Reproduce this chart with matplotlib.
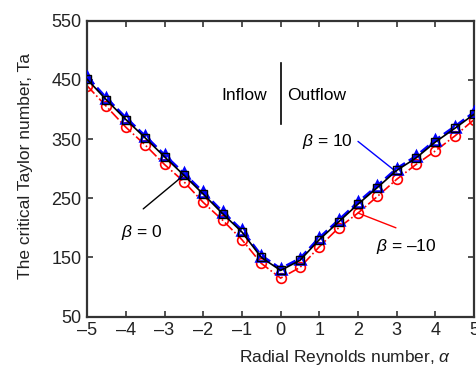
import matplotlib
matplotlib.use("Agg")
import matplotlib.pyplot as plt

plt.rcParams["font.family"] = ["Liberation Sans", "DejaVu Sans"]
plt.rcParams["mathtext.fontset"] = "custom"
plt.rcParams["mathtext.it"] = "Liberation Sans:italic"
plt.rcParams["mathtext.rm"] = "Liberation Sans"

alpha = [-5, -4.5, -4, -3.5, -3, -2.5, -2, -1.5, -1, -0.5,
         0, 0.5, 1, 1.5, 2, 2.5, 3, 3.5, 4, 4.5, 5]
ta_b0 = [451, 416, 383, 352, 320, 289, 257, 224, 193, 150,
         128, 145, 180, 210, 240, 268, 297, 318, 345, 368, 392]
ta_b10 = [455, 419, 386, 355, 323, 292, 260, 227, 196, 153,
          131, 148, 183, 213, 243, 271, 300, 321, 348, 371, 395]
ta_bm10 = [440, 405, 370, 340, 307, 278, 243, 213, 180, 140,
           115, 133, 168, 200, 225, 253, 282, 307, 330, 355, 383]
xticks = list(range(-5, 6))
yticks = list(range(50, 551, 100))

fig = plt.figure(figsize=(4.76, 3.69), dpi=100)
ax = fig.add_axes([0.183, 0.142, 0.813, 0.802])

ax.plot(alpha, ta_bm10, color="red", ls="-.", lw=1.2, marker="o", ms=7,
        mfc="none", mec="red", mew=1.2, zorder=2)
ax.plot(alpha, ta_b10, color="blue", ls="--", lw=2.0, marker="^", ms=7,
        mfc="none", mec="blue", mew=1.8, zorder=3)
ax.plot(alpha, ta_b0, color="black", ls="-", lw=1.2, marker="s", ms=6,
        mfc="none", mec="black", mew=1.0, zorder=4)

ax.set_xlim(-5, 5)
ax.set_ylim(50, 550)
ax.set_xticks(xticks)
ax.set_xticklabels([str(v).replace("-", "\u2013") for v in xticks])
ax.set_yticks(yticks)
ax.tick_params(direction="in", top=True, right=True, labelsize=13,
               length=4, width=1.2, color="#333333", pad=4,
               labelcolor="#222222")
for s in ax.spines.values():
    s.set_linewidth(1.6)
    s.set_color("#333333")

ax.set_ylabel("The critical Taylor number, Ta", fontsize=12.5, color="#222222")
ax.yaxis.set_label_coords(-0.14, 0.51)
ax.set_xlabel("Radial Reynolds number, $\\it{\\alpha}$", fontsize=12.5,
              color="#222222")
ax.xaxis.set_label_coords(0.667, -0.105)

# inflow / outflow marker
ax.plot([0, 0], [376, 478], color="black", lw=1.2)
ax.text(-0.36, 423, "Inflow", ha="right", va="center", fontsize=12.5)
ax.text(0.16, 423, "Outflow", ha="left", va="center", fontsize=12.5)

ax.annotate("", xy=(3, 294), xytext=(2.0, 346),
            arrowprops=dict(arrowstyle="-", color="blue", lw=1.0,
                            shrinkA=0, shrinkB=0))
ax.text(1.2, 345, "$\\it{\\beta}$ = 10", ha="center", va="center", fontsize=12.5)

ax.annotate("", xy=(-2.5, 289), xytext=(-3.55, 232),
            arrowprops=dict(arrowstyle="-", color="black", lw=1.0,
                            shrinkA=0, shrinkB=0))
ax.text(-3.6, 192, "$\\it{\\beta}$ = 0", ha="center", va="center", fontsize=12.5)

ax.annotate("", xy=(2.0, 225), xytext=(2.98, 200),
            arrowprops=dict(arrowstyle="-", color="red", lw=1.0,
                            shrinkA=0, shrinkB=0))
ax.text(3.25, 169, "$\\it{\\beta}$ = \u201310", ha="center", va="center",
        fontsize=12.5)

fig.savefig("out.png", dpi=100)
